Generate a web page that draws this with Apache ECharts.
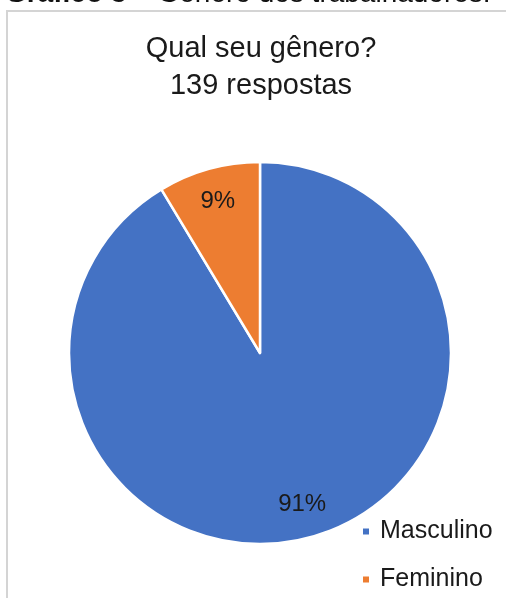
<!DOCTYPE html>
<html>
<head>
<meta charset="utf-8">
<script src="https://cdn.jsdelivr.net/npm/echarts@6/dist/echarts.min.js"></script>
<style>
html,body{margin:0;padding:0;background:#fff;}
#c{width:506px;height:598px;}
</style>
</head>
<body>
<div id="c"></div>
<script>
var categories = ['Masculino', 'Feminino'];
var values = [127, 12];
var colors = ['#4472C4', '#ED7D31'];
var titleText = 'Qual seu gênero?\n139 respostas';
var captionBold = 'Gráfico 3';
var captionRest = ' – Gênero dos trabalhadores:';

var total = values.reduce(function(a, b){ return a + b; }, 0);
var pieData = categories.map(function(c, i){ return {name: c, value: values[i], itemStyle: {color: colors[i]}}; });
var labelData = categories.map(function(c, i){ return {name: c, value: values[i]}; });
var FF = 'Liberation Sans, Arial, sans-serif';

var chart = echarts.init(document.getElementById('c'), null, {renderer: 'canvas'});
chart.setOption({
  animation: false,
  backgroundColor: '#fff',
  title: {
    text: titleText,
    left: 256, top: 25, textAlign: 'center',
    textStyle: {fontFamily: FF, fontSize: 29, fontWeight: 'normal', color: '#1a1a1a', lineHeight: 37}
  },
  graphic: [
    {type: 'line', shape: {x1: 7, y1: 11, x2: 7, y2: 600}, style: {stroke: '#d4d4d4', lineWidth: 2}, z: 0},
    {type: 'line', shape: {x1: 6, y1: 11, x2: 510, y2: 11}, style: {stroke: '#d4d4d4', lineWidth: 2}, z: 0},
    {type: 'text', x: 5, y: 8, style: {
      text: '{b|' + captionBold + '}{r|' + captionRest + '}',
      verticalAlign: 'bottom', align: 'left',
      rich: {
        b: {fontFamily: FF, fontSize: 28, fontWeight: 'bold', fill: '#111'},
        r: {fontFamily: FF, fontSize: 28, fontWeight: 'normal', fill: '#111'}
      }
    }, z: 10}
  ],
  legend: {
    orient: 'vertical', left: 361, top: 519, padding: 0,
    data: categories,
    icon: 'rect', itemWidth: 8, itemHeight: 8, itemGap: 23,
    textStyle: {fontFamily: FF, fontSize: 25, color: '#1a1a1a', padding: [0, 0, 0, 5]}
  },
  series: [
    {
      type: 'pie', center: [260, 353], radius: 191,
      startAngle: 90, clockwise: true,
      data: pieData,
      itemStyle: {borderColor: '#fff', borderWidth: 2.5},
      label: {show: false}, labelLine: {show: false},
      emphasis: {disabled: true}, silent: true
    },
    {
      type: 'pie', center: [260, 353], radius: [118, 191],
      startAngle: 90, clockwise: true,
      data: labelData,
      itemStyle: {color: 'rgba(0,0,0,0)'},
      label: {
        show: true, position: 'inside',
        formatter: function(p){ return Math.round(p.value / total * 100) + '%'; },
        fontFamily: FF, fontSize: 24, color: '#1a1a1a'
      },
      labelLine: {show: false},
      emphasis: {disabled: true}, silent: true
    }
  ]
});
</script>
</body>
</html>
